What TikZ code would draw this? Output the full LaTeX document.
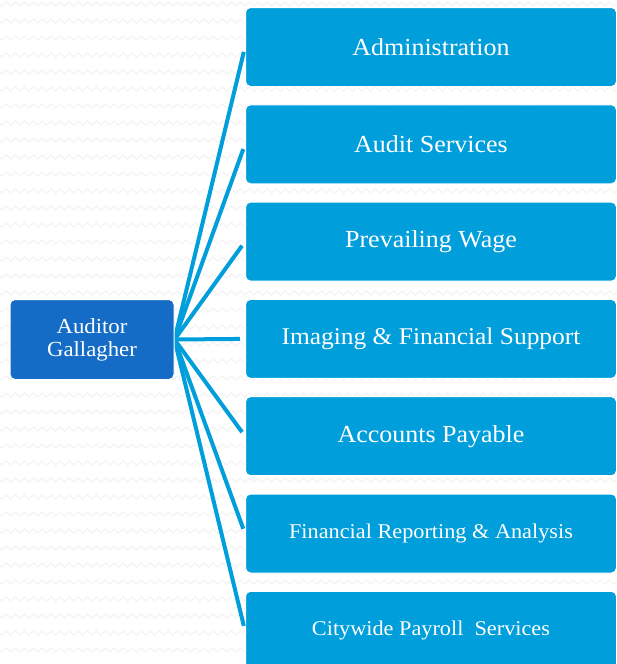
\documentclass[tikz,border=0pt]{standalone}
\usepackage{fontspec}
\setmainfont[FakeStretch=1.06]{Liberation Serif}
\usetikzlibrary{positioning}
\usetikzlibrary{decorations.pathmorphing}
\definecolor{unitblue}{RGB}{0,158,219}
\definecolor{chiefblue}{RGB}{20,108,198}
\definecolor{wavegray}{RGB}{244,244,244}
\tikzset {
  % faint zigzag rows behind everything
  wave/.style = {
    draw = wavegray,
    line width = 1.2pt,
    decorate,
    decoration = {zigzag, segment length = 9pt, amplitude = 2pt}
  },
  % connector from the auditor to a unit
  spoke/.style = {
    draw = unitblue,
    line width = 4pt,
    shorten > = 5pt
  }
}
\tikzset {
  org node/.style = {
    draw = white,
    line width = 1pt,
    rounded corners = 5pt,
    text = white,
    align = center
  },
  % the auditor
  chief/.style = {
    org node,
    fill = chiefblue,
    minimum width = 164pt,
    minimum height = 80pt,
    font = \fontsize{21.5}{23}\selectfont
  },
  % a unit under the auditor
  unit/.style = {
    org node,
    fill = unitblue,
    minimum width = 371pt,
    minimum height = 79pt,
    font = \fontsize{24.5}{28}\selectfont
  },
  small/.style = {
    font = \fontsize{21}{25}\selectfont
  },
  node distance = 17.3pt
}
\begin{document}
\begin{tikzpicture}[x = 1pt, y = -1pt]
    \useasboundingbox (0,0) rectangle (617,664);
    \fill[white] (0,0) rectangle (617,664);
    \foreach \r in {0,...,39}
      \draw[wave] (-5,\r*17+4) -- (625,\r*17+4);

    \node[chief] (auditor) at (92,339.5) {Auditor\\Gallagher};

    \node[unit, anchor = north west] (admin) at (245,7) {Administration};
    \node[unit] (audit) [below=of admin] {Audit Services};
    \node[unit] (wage) [below=of audit] {Prevailing Wage};
    \node[unit, font = \fontsize{24}{28}\selectfont] (imaging) [below=of wage] {Imaging \& Financial Support};
    \node[unit] (payable) [below=of imaging] {Accounts Payable};
    \node[unit, small] (reporting) [below=of payable] {Financial Reporting \& Analysis};
    \node[unit, small] (payroll) [below=of reporting] {Citywide Payroll~~Services};

    \foreach \u in {admin, audit, wage, imaging, payable, reporting, payroll}
      \draw[spoke] (auditor.east) -- (\u.west);

    % redraw the auditor on top of the spokes
    \node[chief] at (auditor) {Auditor\\Gallagher};
  \end{tikzpicture}
\end{document}
